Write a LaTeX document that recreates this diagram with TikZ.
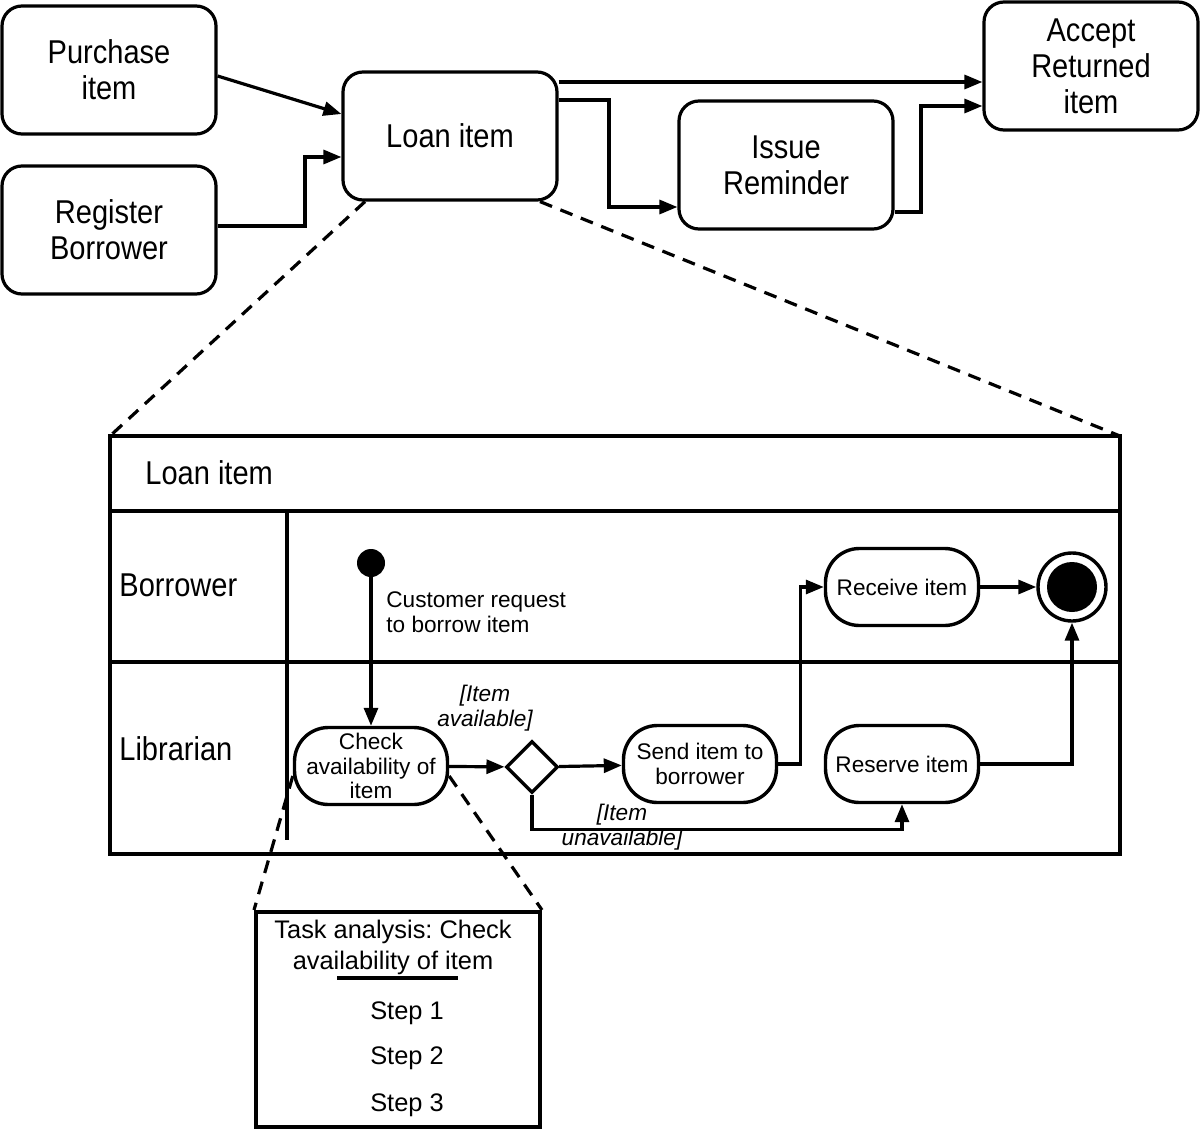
\documentclass[tikz,border=0pt]{standalone}
\usepackage{fontspec}
\setmainfont{Liberation Sans}
\newfontfamily\condfont[FakeStretch=0.88]{Liberation Sans}
\newcommand\bigfont{\condfont\fontsize{16.5}{18}\selectfont}
\newcommand\actfont{\fontsize{11.3}{12.3}\selectfont}
\newcommand\taskfont{\fontsize{12.7}{15.5}\selectfont}
\frenchspacing
\usetikzlibrary{arrows.meta,shapes.geometric}

\begin{document}
\begin{tikzpicture}[x=0.5pt,y=-0.5pt,
  task/.style={draw,line width=1.6pt,rounded corners=10pt,minimum width=107pt,minimum height=64pt,align=center,font=\bigfont,inner sep=1pt},
  act/.style={draw,line width=1.7pt,rounded corners=17pt,minimum width=76.5pt,minimum height=38.5pt,align=center,font=\actfont,inner sep=1pt},
  guard/.style={align=center,font=\actfont\itshape,inner sep=0pt},
  flow/.style={line width=1.6pt,-{Triangle[length=9pt,width=7pt]}},
  zoomline/.style={line width=1.6pt,dash pattern=on 6.5pt off 4.5pt},
  lane/.style={line width=1.7pt}]
\useasboundingbox (0,0) rectangle (1200,1129);

\node[task] (purchase) at (109,70) {Purchase\\item};
\node[task] (register) at (109,230) {Register\\Borrower};
\node[task] (loan) at (450,136) {Loan item};
\node[task] (remind) at (786,165) {Issue\\Reminder};
\node[task] (accept) at (1091,66) {Accept\\Returned\\item};

\draw[flow] (purchase.east |- 0,76) -- (loan.west |- 0,114);
\draw[flow] (register.east |- 0,226) -- (305,226) |- (loan.west |- 0,157);
\draw[flow] (loan.east |- 0,82) -- (accept.west |- 0,82);
\draw[flow] (loan.east |- 0,100) -- (609,100) |- (remind.west |- 0,207);
\draw[flow] (remind.east |- 0,212) -- (921,212) |- (accept.west |- 0,106);

\coordinate (laneNW) at (110,436);
\coordinate (laneNE) at (1120,436);
\draw[zoomline] (loan.south -| 365,0) -- (laneNW);
\draw[zoomline] (loan.south -| 540,0) -- (laneNE);

\draw[lane] (laneNW) rectangle (1120,854);
\draw[lane] (110,511) -- (1120,511);
\draw[lane] (110,662) -- (1120,662);
\draw[lane] (287,511) -- (287,840);
\node[anchor=west,font=\bigfont,inner sep=0pt] (lanetitle) at (145,473) {Loan item};
\node[anchor=west,font=\bigfont,inner sep=0pt] (borrower) at (119,585) {Borrower};
\node[anchor=west,font=\bigfont,inner sep=0pt] (librarian) at (119,749) {Librarian};

\node[circle,fill,minimum size=14pt,inner sep=0pt] (start) at (371,563) {};
\node[anchor=west,align=left,font=\actfont,inner sep=0pt] (request) at (386,612) {Customer request\\to borrow item};
\node[act] (check) at (371,766) {Check\\availability of\\item};
\node[diamond,draw,line width=1.7pt,minimum size=26pt,inner sep=0pt] (decide) at (532,767) {};
\node[act] (send) at (700,764) {Send item to\\borrower};
\node[act] (receive) at (902,587) {Receive item};
\node[act] (reserve) at (902,764) {Reserve item};
\node[circle,draw,line width=1.7pt,minimum size=34pt,inner sep=0pt] (stop) at (1072,587) {};
\node[circle,fill,minimum size=25pt,inner sep=0pt] (stopdot) at (stop) {};
\node[guard] (available) at (485,708) {[Item\\available]};
\node[guard] (unavailable) at (622,827) {[Item\\unavailable]};

\draw[flow] (start) -- (check);
\draw[flow] (check) -- (decide);
\draw[flow] (decide) -- (send);
\draw[flow] (send.east) -- ++(22,0) |- (receive.west);
\draw[flow] (receive) -- (stop);
\draw[flow] (reserve.east) -| (stop.south);
\draw[flow] (decide.south) -- ++(0,35) -| (reserve.south);

\node[draw,line width=2pt,minimum width=142pt,minimum height=107.5pt] (taskbox) at (398,1019.5) {};
\draw[zoomline] ([yshift=-5pt]check.west) -- (taskbox.north west);
\draw[zoomline] ([yshift=-5pt]check.east) -- (taskbox.north east);
\node[align=center,font=\taskfont,inner sep=0pt] (taskhead) at (393,947) {Task analysis: Check\\availability of item};
\draw[line width=1.7pt] (337,978) -- (458,978);
\foreach \i/\y in {1/1013,2/1058,3/1105}
  \node[font=\taskfont] (step\i) at (407,\y) {Step \i};
\end{tikzpicture}
\end{document}
